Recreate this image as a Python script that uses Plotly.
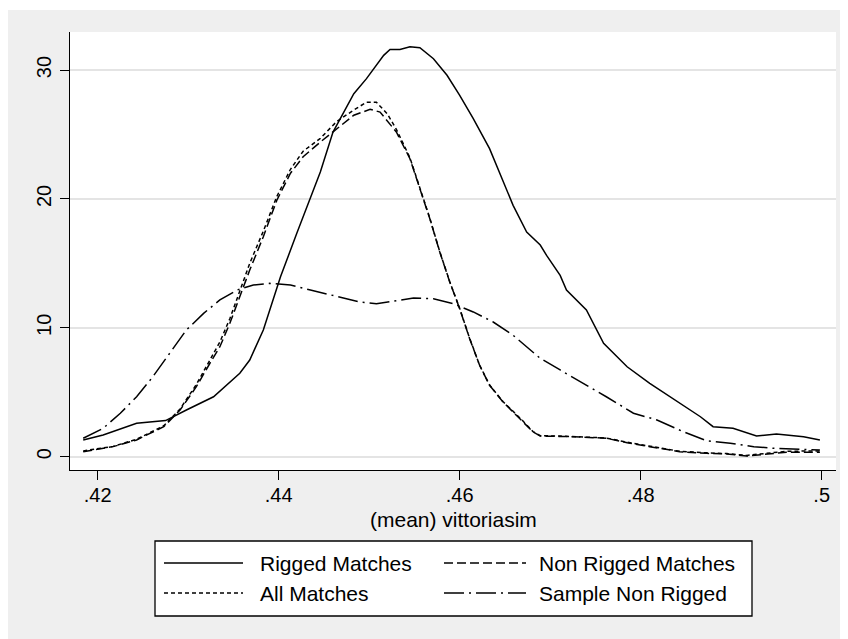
import plotly.graph_objects as go

# ---------------- data ----------------
rigged_x = [0.4184, 0.4206, 0.4243, 0.4275, 0.4298, 0.4328, 0.4357, 0.4368, 0.4383, 0.4390,
            0.4402, 0.4420, 0.4438, 0.4446, 0.4460, 0.4483, 0.4497, 0.4516, 0.4523, 0.4534,
            0.4545, 0.4556, 0.4571, 0.4586, 0.4600, 0.4615, 0.4633, 0.4648, 0.4659, 0.4674,
            0.4689, 0.4696, 0.4711, 0.4718, 0.4740, 0.4759, 0.4785, 0.4810, 0.4843, 0.4866,
            0.4880, 0.4902, 0.4928, 0.4950, 0.4980, 0.4998]
rigged_y = [1.30, 1.68, 2.59, 2.80, 3.62, 4.65, 6.47, 7.50, 9.83, 11.38,
            13.96, 17.33, 20.60, 22.09, 25.19, 28.16, 29.33, 31.14, 31.60, 31.60,
            31.81, 31.73, 30.88, 29.59, 28.04, 26.22, 23.90, 21.31, 19.50, 17.43,
            16.42, 15.62, 14.07, 12.93, 11.38, 8.80, 6.98, 5.69, 4.14, 3.10,
            2.33, 2.20, 1.60, 1.76, 1.55, 1.30]

nonrigged_x = [0.4184, 0.4217, 0.4243, 0.4273, 0.4291, 0.4309, 0.4324, 0.4335, 0.4346, 0.4357,
               0.4368, 0.4383, 0.4398, 0.4413, 0.4427, 0.4446, 0.4464, 0.4483, 0.4501, 0.4512,
               0.4530, 0.4545, 0.4556, 0.4567, 0.4578, 0.4589, 0.4600, 0.4611, 0.4622, 0.4633,
               0.4648, 0.4667, 0.4681, 0.4689, 0.4711, 0.4726, 0.4762, 0.4785, 0.4810, 0.4843,
               0.4873, 0.4895, 0.4917, 0.4939, 0.4961, 0.4998]
nonrigged_y = [0.39, 0.78, 1.30, 2.33, 3.62, 5.43, 7.25, 8.53, 10.35, 12.41,
               14.48, 17.07, 19.91, 21.99, 23.27, 24.41, 25.45, 26.49, 26.95, 26.74,
               25.19, 23.12, 20.79, 18.46, 15.88, 13.55, 11.48, 9.15, 7.09, 5.54,
               4.24, 2.95, 1.92, 1.60, 1.58, 1.55, 1.43, 1.09, 0.78, 0.39,
               0.26, 0.21, 0.05, 0.21, 0.35, 0.35]

all_x = [0.4184, 0.4217, 0.4243, 0.4273, 0.4291, 0.4309, 0.4324, 0.4335, 0.4346, 0.4357,
         0.4368, 0.4383, 0.4398, 0.4413, 0.4427, 0.4446, 0.4464, 0.4483, 0.4497, 0.4508,
         0.4520, 0.4530, 0.4545, 0.4556, 0.4567, 0.4578, 0.4589, 0.4600, 0.4611, 0.4622,
         0.4633, 0.4648, 0.4667, 0.4681, 0.4689, 0.4711, 0.4726, 0.4762, 0.4785, 0.4810,
         0.4843, 0.4873, 0.4895, 0.4917, 0.4939, 0.4961, 0.4998]
all_y = [0.45, 0.80, 1.35, 2.40, 3.70, 5.60, 7.50, 8.90, 10.70, 12.80,
         15.00, 17.50, 20.20, 22.30, 23.70, 24.70, 26.00, 26.90, 27.50, 27.50,
         26.60, 25.40, 23.20, 20.85, 18.50, 15.90, 13.58, 11.50, 9.18, 7.10,
         5.56, 4.26, 2.98, 1.95, 1.63, 1.60, 1.57, 1.45, 1.12, 0.80,
         0.42, 0.30, 0.24, 0.10, 0.26, 0.42, 0.45]

sample_x = [0.4184, 0.4206, 0.4225, 0.4243, 0.4261, 0.4280, 0.4298, 0.4317, 0.4335, 0.4354,
            0.4372, 0.4390, 0.4413, 0.4435, 0.4460, 0.4490, 0.4508, 0.4527, 0.4549, 0.4571,
            0.4593, 0.4615, 0.4637, 0.4659, 0.4681, 0.4689, 0.4711, 0.4737, 0.4762, 0.4792,
            0.4818, 0.4847, 0.4873, 0.4899, 0.4925, 0.4947, 0.4969, 0.4998]
sample_y = [1.43, 2.20, 3.37, 4.65, 6.21, 8.02, 9.83, 11.12, 12.16, 12.93,
            13.32, 13.45, 13.32, 12.93, 12.52, 12.00, 11.87, 12.06, 12.31, 12.26,
            11.87, 11.23, 10.45, 9.42, 8.12, 7.63, 6.73, 5.69, 4.65, 3.37,
            2.85, 1.94, 1.24, 1.04, 0.78, 0.65, 0.57, 0.52]

x_ticks = [0.42, 0.44, 0.46, 0.48, 0.50]
x_tick_labels = [".42", ".44", ".46", ".48", ".5"]
y_ticks = [0, 10, 20, 30]
y_tick_labels = ["0", "10", "20", "30"]

series_names = ["Rigged Matches", "Non Rigged Matches", "All Matches", "Sample Non Rigged"]
x_title = "(mean) vittoriasim"

# ---------------- styling ----------------
OFF = 8                      # page body margin
W, H = 840, 631
ML, MR, MT, MB = 62, 12, 24, 169
PW, PH = W - ML - MR, H - MT - MB
FONT = "Liberation Sans, Arial, Helvetica, sans-serif"
BG = "#efefef"
dashes = ["solid", "9px,4px", "4px,3px", "20px,5px,2px,5px"]


def px_x(p):
    """screen x (px) -> paper x"""
    return (p - OFF - ML) / PW


def px_y(p):
    """screen y (px) -> paper y"""
    return (H - MB - (p - OFF)) / PH


fig = go.Figure()
for xs, ys, name, d in zip([rigged_x, nonrigged_x, all_x, sample_x],
                           [rigged_y, nonrigged_y, all_y, sample_y],
                           series_names, dashes):
    fig.add_trace(go.Scatter(x=xs, y=ys, mode="lines", name=name, showlegend=False,
                             line=dict(color="black", width=1.5, dash=d)))

shapes = [
    # thin white strip above the gray background
    dict(type="rect", xref="paper", yref="paper", x0=px_x(0), x1=px_x(860), y0=px_y(10), y1=px_y(0),
         fillcolor="white", line=dict(width=0), layer="below"),
    # legend box
    dict(type="rect", xref="paper", yref="paper", x0=px_x(155), x1=px_x(752), y0=px_y(616), y1=px_y(541),
         fillcolor="white", line=dict(color="black", width=1.3)),
]
annotations = [
    dict(text=x_title, xref="paper", yref="paper", x=px_x(454), y=px_y(519), showarrow=False,
         xanchor="center", yanchor="middle", font=dict(family=FONT, size=21, color="black")),
]
legend_pos = [(164, 243, 258, 563), (444, 526, 537, 563), (164, 243, 258, 593), (444, 526, 537, 593)]
for (sx0, sx1, tx, ty), i in zip(legend_pos, range(4)):
    shapes.append(dict(type="line", xref="paper", yref="paper", x0=px_x(sx0), x1=px_x(sx1),
                       y0=px_y(ty), y1=px_y(ty), line=dict(color="black", width=1.5, dash=dashes[i])))
    annotations.append(dict(text=series_names[i], xref="paper", yref="paper", x=px_x(tx), y=px_y(ty),
                            showarrow=False, xanchor="left", yanchor="middle",
                            font=dict(family=FONT, size=21, color="black")))

fig.update_layout(
    width=W, height=H,
    margin=dict(l=ML, r=MR, t=MT, b=MB, pad=0),
    paper_bgcolor=BG, plot_bgcolor="white",
    font=dict(family=FONT, size=20, color="black"),
    shapes=shapes, annotations=annotations,
    xaxis=dict(range=[0.416939, 0.50158], tickvals=x_ticks, ticktext=x_tick_labels,
               showgrid=False, zeroline=False, showline=True, linecolor="black", linewidth=1.3,
               ticks="outside", ticklen=9, tickwidth=1.3, tickcolor="black", ticklabelstandoff=-2,
               tickfont=dict(family=FONT, size=20, color="black")),
    yaxis=dict(range=[-1.032, 32.95], tickvals=y_ticks, ticktext=y_tick_labels, tickangle=-90,
               showgrid=True, gridcolor="#e4e4e4", gridwidth=1.5, zeroline=False,
               showline=True, linecolor="black", linewidth=1.3, ticklabelstandoff=1,
               ticks="outside", ticklen=9, tickwidth=1.3, tickcolor="black",
               tickfont=dict(family=FONT, size=20, color="black")),
)

fig.write_html("out.html")
